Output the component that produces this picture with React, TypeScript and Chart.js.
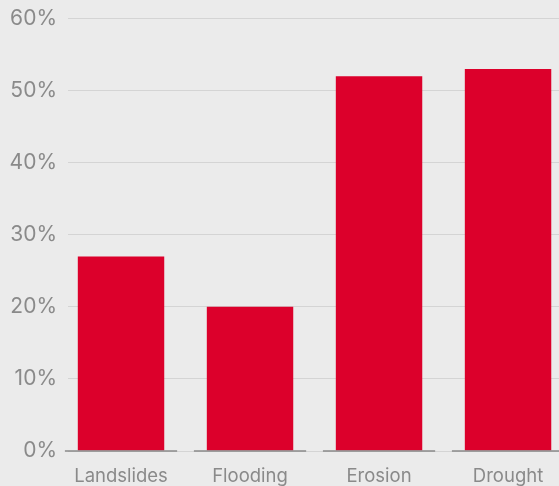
import React, { useEffect, useRef } from "react";
import { Chart, registerables } from "chart.js";

Chart.register(...registerables);

const categories = ["Landslides", "Flooding", "Erosion", "Drought"];
const values = [27, 20, 52, 53];
const yTicks = [0, 10, 20, 30, 40, 50, 60];

const segmentPlugin = {
  id: "segments",
  afterDatasetsDraw(chart: any) {
    const { ctx, scales } = chart;
    const x = scales.x;
    const y = scales.y;
    const yb = y.getPixelForValue(0);
    ctx.save();
    ctx.strokeStyle = "#8a8a8a";
    ctx.lineWidth = 1.5;
    categories.forEach((_, i) => {
      const a = x.getPixelForValue(i - 0.435);
      const b = x.getPixelForValue(i + 0.435);
      ctx.beginPath();
      ctx.moveTo(a, yb);
      ctx.lineTo(b, yb);
      ctx.stroke();
    });
    ctx.restore();
  },
};

export default function App() {
  const ref = useRef<HTMLCanvasElement>(null);
  useEffect(() => {
    document.body.style.margin = "0";
    const chart = new Chart(ref.current!, {
      type: "bar",
      data: {
        datasets: [
          {
            data: values.map((v, i) => ({ x: i, y: v })),
            backgroundColor: "#dc002b",
            barPercentage: 1,
            categoryPercentage: 0.67,
          },
        ],
      },
      options: {
        animation: false,
        responsive: false,
        maintainAspectRatio: false,
        layout: { padding: { top: 4, right: 0, left: 0, bottom: 0 } },
        plugins: { legend: { display: false }, tooltip: { enabled: false } },
        scales: {
          x: {
            type: "linear",
            offset: false,
            min: -0.411,
            max: 3.395,
            afterFit: (axis: any) => {
              axis.height = 35;
            },
            grid: { display: false, drawTicks: false, offset: false },
            border: { display: false },
            ticks: {
              stepSize: 1,
              includeBounds: false,
              autoSkip: false,
              maxRotation: 0,
              padding: 14,
              color: "#8a8a8a",
              font: { family: "Inter", size: 18.5 },
              callback: (v: any) => {
                const n = Number(v);
                return Number.isInteger(n) ? categories[n] ?? "" : "";
              },
            },
          },
          y: {
            min: 0,
            max: 60,
            afterFit: (axis: any) => {
              axis.width = 68;
            },
            afterBuildTicks: (axis: any) => {
              axis.ticks = yTicks.map((v) => ({ value: v }));
            },
            grid: { color: "#d4d4d4", lineWidth: 1, drawTicks: false },
            border: { display: false },
            ticks: {
              padding: 11,
              color: "#8a8a8a",
              font: { family: "Inter", size: 21 },
              callback: (v: any) => v + "%",
            },
          },
        },
      },
      plugins: [segmentPlugin],
    });
    return () => chart.destroy();
  }, []);
  return (
    <div style={{ position: "fixed", left: 0, top: 0, width: 559, height: 486, background: "#ebebeb", overflow: "hidden" }}>
      <canvas ref={ref} width={559} height={491} style={{ width: 559, height: 491, display: "block", marginTop: -5 }} />
    </div>
  );
}
